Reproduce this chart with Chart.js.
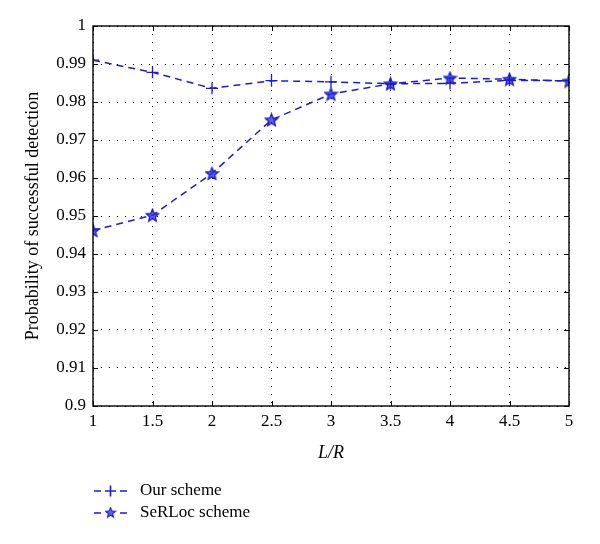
<!DOCTYPE html>
<html>
<head>
<meta charset="utf-8">
<script src="https://cdn.jsdelivr.net/npm/chart.js@4"></script>
<style>
html,body{margin:0;padding:0;background:#fff;}
#wrap{position:relative;width:600px;height:544px;}
</style>
</head>
<body>
<div id="wrap"><canvas id="c" width="600" height="544"></canvas></div>
<script>
const xValues = [1, 1.5, 2, 2.5, 3, 3.5, 4, 4.5, 5];
const ourScheme = [0.9910, 0.9878, 0.9836, 0.9856, 0.9853, 0.9848, 0.9849, 0.9857, 0.9856];
const serlocScheme = [0.9462, 0.9502, 0.9612, 0.9753, 0.9821, 0.9848, 0.9863, 0.9860, 0.9855];
const seriesLabels = ['Our scheme', 'SeRLoc scheme'];
const xTitle = 'L/R';
const yTitle = 'Probability of successful detection';

const BLUE = '#1c1ccf';
const FONT = "'Liberation Serif', 'DejaVu Serif', serif";

function starImage(size) {
  const c = document.createElement('canvas');
  c.width = size; c.height = size;
  const g = c.getContext('2d');
  const cx = size / 2, cy = size / 2 + 0.5, R = size / 2 - 1, r = R * 0.45;
  g.beginPath();
  for (let i = 0; i < 10; i++) {
    const a = -Math.PI / 2 + i * Math.PI / 5;
    const rad = i % 2 === 0 ? R : r;
    const px = cx + rad * Math.cos(a), py = cy + rad * Math.sin(a);
    if (i === 0) g.moveTo(px, py); else g.lineTo(px, py);
  }
  g.closePath();
  g.fillStyle = 'rgba(40,40,220,0.75)';
  g.fill();
  g.lineWidth = 1.3;
  g.strokeStyle = BLUE;
  g.stroke();
  return c;
}
const star = starImage(15);

const frameAndTicks = {
  id: 'frameAndTicks',
  afterDraw(chart) {
    const {ctx, chartArea: a, scales: {x, y}} = chart;
    ctx.save();
    ctx.strokeStyle = '#000';
    ctx.lineWidth = 1;
    ctx.setLineDash([]);
    ctx.beginPath();
    x.ticks.forEach(t => {
      const px = Math.round(x.getPixelForValue(t.value)) + 0.5;
      ctx.moveTo(px, a.bottom); ctx.lineTo(px, a.bottom - 5);
      ctx.moveTo(px, a.top); ctx.lineTo(px, a.top + 5);
    });
    y.ticks.forEach(t => {
      const py = Math.round(y.getPixelForValue(t.value)) + 0.5;
      ctx.moveTo(a.left, py); ctx.lineTo(a.left + 5, py);
      ctx.moveTo(a.right, py); ctx.lineTo(a.right - 5, py);
    });
    ctx.stroke();
    ctx.lineWidth = 1.4;
    ctx.strokeRect(a.left, a.top, a.right - a.left, a.bottom - a.top);

    // legend
    const baseY = 491, gap = 22;
    chart.data.datasets.forEach((ds, i) => {
      const yy = baseY + i * gap;
      ctx.strokeStyle = ds.borderColor;
      ctx.lineWidth = 1.6;
      ctx.setLineDash([]);
      ctx.beginPath();
      ctx.moveTo(94, yy); ctx.lineTo(101, yy);
      ctx.moveTo(120, yy); ctx.lineTo(127, yy);
      ctx.stroke();
      if (ds.pointStyle === 'cross') {
        ctx.beginPath();
        ctx.moveTo(105, yy); ctx.lineTo(116, yy);
        ctx.moveTo(110.5, yy - 5.5); ctx.lineTo(110.5, yy + 5.5);
        ctx.stroke();
      } else {
        ctx.drawImage(ds.pointStyle, 110.5 - 6, yy - 6.5, 12, 12);
      }
      ctx.fillStyle = '#000';
      ctx.font = "17px " + FONT;
      ctx.textBaseline = 'middle';
      ctx.textAlign = 'left';
      ctx.fillText(ds.label, 140, yy);
    });
    ctx.restore();
  }
};

new Chart(document.getElementById('c'), {
  type: 'line',
  data: {
    datasets: [
      {
        label: seriesLabels[0],
        data: xValues.map((v, i) => ({x: v, y: ourScheme[i]})),
        borderColor: BLUE,
        backgroundColor: BLUE,
        borderWidth: 1.5,
        borderDash: [7, 5],
        pointStyle: 'cross',
        pointRadius: 6,
        pointBorderWidth: 1.3,
        pointBorderColor: BLUE,
        fill: false,
        tension: 0
      },
      {
        label: seriesLabels[1],
        data: xValues.map((v, i) => ({x: v, y: serlocScheme[i]})),
        borderColor: BLUE,
        backgroundColor: BLUE,
        borderWidth: 1.5,
        borderDash: [7, 5],
        pointStyle: star,
        pointRadius: 7,
        fill: false,
        tension: 0
      }
    ]
  },
  options: {
    responsive: false,
    animation: false,
    devicePixelRatio: 1,
    layout: {padding: {left: 0, right: 31, top: 26, bottom: 80}},
    plugins: {legend: {display: false}, tooltip: {enabled: false}},
    scales: {
      x: {
        type: 'linear',
        min: 1, max: 5,
        afterFit(s) { s.height = 58; },
        ticks: {
          stepSize: 0.5,
          color: '#000',
          font: {family: FONT, size: 17},
          padding: 5,
          maxRotation: 0,
          callback: v => String(v)
        },
        grid: {
          color: '#000',
          lineWidth: 1,
          drawTicks: false,
          tickLength: 0
        },
        border: {display: false, dash: [1, 7]},
        title: {
          display: true,
          text: xTitle,
          color: '#000',
          font: {family: FONT, size: 18, style: 'italic'},
          padding: {top: 2, bottom: 0}
        }
      },
      y: {
        type: 'linear',
        min: 0.9, max: 1,
        afterFit(s) { s.width = 93; },
        ticks: {
          stepSize: 0.01,
          color: '#000',
          font: {family: FONT, size: 17},
          padding: 7,
          callback: v => String(Number(v.toFixed(2)))
        },
        grid: {
          color: '#000',
          lineWidth: 1,
          drawTicks: false,
          tickLength: 0
        },
        border: {display: false, dash: [1, 7]},
        title: {
          display: true,
          text: yTitle,
          color: '#000',
          font: {family: FONT, size: 18},
          padding: {top: 22, bottom: 0}
        }
      }
    }
  },
  plugins: [frameAndTicks]
});
</script>
</body>
</html>
